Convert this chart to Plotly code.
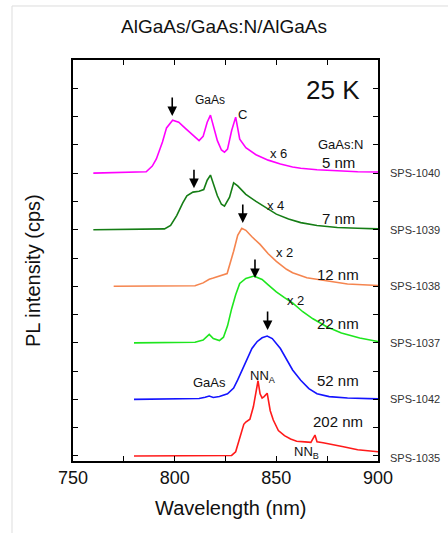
import plotly.graph_objects as go

# ---------------- data (wavelength nm, intensity above baseline, arb. units) -------------
wl_5nm = [760, 780, 786, 789, 791, 794, 796, 799, 802, 805, 808, 810, 812, 814, 816, 817.6, 819, 821, 823, 824.5, 826, 828, 830, 832, 835, 840, 846, 852, 858, 862, 870, 880, 890, 900]
pl_5nm = [0, 0.02, 0.05, 0.25, 0.5, 1.1, 1.6, 1.87, 1.8, 1.6, 1.4, 1.25, 1.15, 1.3, 1.8, 2.05, 1.7, 1.15, 0.82, 0.74, 0.85, 1.5, 1.98, 1.2, 0.9, 0.65, 0.46, 0.32, 0.22, 0.17, 0.12, 0.08, 0.05, 0.04]

wl_7nm = [760, 795, 798, 801, 804, 806, 809, 812, 814.3, 816, 817.6, 819, 821, 823, 824.5, 827, 829, 831, 835, 840, 845, 850, 856, 862, 870, 880, 890, 900]
pl_7nm = [0, 0.03, 0.15, 0.5, 0.95, 1.2, 1.33, 1.36, 1.42, 1.75, 1.93, 1.65, 1.2, 0.9, 0.83, 1.15, 1.66, 1.55, 1.25, 1.0, 0.78, 0.55, 0.38, 0.25, 0.15, 0.08, 0.05, 0.03]

wl_12nm = [770, 810, 814, 817, 819, 822, 825.8, 829, 831, 833, 835, 838, 842, 846, 850, 855, 858, 865, 875, 885, 900]
pl_12nm = [0, 0.02, 0.12, 0.25, 0.29, 0.35, 0.45, 1.24, 1.8, 2.05, 1.98, 1.75, 1.48, 1.15, 0.88, 0.6, 0.48, 0.3, 0.18, 0.08, 0.03]

wl_22nm = [780, 810, 814, 817, 819, 822, 824, 826, 828, 830, 832, 835, 839, 843, 846, 850, 854, 858, 863, 868, 875, 882, 891, 900]
pl_22nm = [0, 0.02, 0.1, 0.3, 0.15, 0.08, 0.2, 0.6, 1.2, 1.7, 2.1, 2.28, 2.36, 2.24, 2.05, 1.8, 1.6, 1.41, 1.1, 0.85, 0.56, 0.35, 0.17, 0.05]

wl_52nm = [780, 812, 815, 817, 819, 822, 826, 829, 831, 833, 835.6, 838, 840.5, 843, 845.5, 848, 852, 855, 858, 862, 866, 870, 876, 885, 900]
pl_52nm = [0, 0.03, 0.08, 0.12, 0.07, 0.1, 0.2, 0.4, 0.69, 1.0, 1.45, 1.8, 2.04, 2.18, 2.24, 2.15, 1.8, 1.4, 1.04, 0.68, 0.38, 0.2, 0.1, 0.05, 0.02]

wl_202nm = [780, 828, 830, 832, 834, 835, 837, 838.7, 840.3, 841, 842, 843, 844, 845.5, 847, 848.5, 851, 854, 857, 860, 864, 867, 869, 870, 873, 876, 883, 890, 900]
pl_202nm = [0, 0.02, 0.15, 0.6, 1.12, 1.2, 1.3, 1.74, 2.3, 2.66, 2.2, 2.05, 2.1, 2.22, 1.6, 1.27, 0.9, 0.72, 0.6, 0.52, 0.5, 0.48, 0.74, 0.5, 0.47, 0.42, 0.33, 0.22, 0.15]

samples = ["SPS-1040", "SPS-1039", "SPS-1038", "SPS-1037", "SPS-1042", "SPS-1035"]
thickness = ["5 nm", "7 nm", "12 nm", "22 nm", "52 nm", "202 nm"]
offsets = [10, 8, 6, 4, 2, 0]
scale_labels = ["x 6", "x 4", "x 2", "x 2"]
colors = ["#ff00ff", "#157d15", "#f5854f", "#1ee61e", "#1414ff", "#ff1a1a"]

series_wl = [wl_5nm, wl_7nm, wl_12nm, wl_22nm, wl_52nm, wl_202nm]
series_pl = [pl_5nm, pl_7nm, pl_12nm, pl_22nm, pl_52nm, pl_202nm]

# peak positions marked with arrows (wavelength, intensity above baseline)
arrow_wl = [798.8, 809.5, 833.5, 839.5, 845.7]
arrow_pl = [2.02, 1.47, 2.24, 2.29, 2.45]

FONT = "Liberation Sans, Arial, sans-serif"

fig = go.Figure()
for wl, pl, off, col in zip(series_wl, series_pl, offsets, colors):
    fig.add_trace(go.Scatter(x=wl, y=[v + off for v in pl], mode="lines",
                             line=dict(color=col, width=1.6), showlegend=False,
                             hoverinfo="skip"))

ann = []
# arrows
for w, p, off in zip(arrow_wl, arrow_pl, offsets):
    ann.append(dict(x=w, y=p + off, xref="x", yref="y", text="", showarrow=True,
                    ax=0, ay=-20, arrowhead=2, arrowsize=1.2, arrowwidth=1.6,
                    arrowcolor="black", standoff=0))

# sample labels on the right (outside the plot area)
for s, off in zip(samples, offsets):
    ann.append(dict(x=1.033, y=off - (0.07 if off == 0 else 0), xref="paper", yref="y", text=s,
                    showarrow=False, xanchor="left", yanchor="middle",
                    font=dict(family=FONT, size=11, color="#333333")))

# thickness labels
thick_y = [10.39, 8.41, 6.43, 4.70, 2.66, 1.21]
for t, ty in zip(thickness, thick_y):
    ann.append(dict(x=880.5, y=ty, xref="x", yref="y", text=t, showarrow=False,
                    xanchor="center", yanchor="middle",
                    font=dict(family=FONT, size=15, color="#111111")))

# multiplication factors
sc_x = [851, 849.5, 853.9, 859.3]
sc_y = [10.71, 8.87, 7.18, 5.49]
for lab, sx, sy in zip(scale_labels, sc_x, sc_y):
    ann.append(dict(x=sx, y=sy, xref="x", yref="y", text=lab, showarrow=False,
                    xanchor="center", yanchor="middle",
                    font=dict(family=FONT, size=13, color="#111111")))

other = [
    ("25 K", 877.9, 12.94, 26),
    ("GaAs", 817.6, 12.58, 12),
    ("C", 833.3, 12.09, 13),
    ("GaAs:N", 882.0, 11.0, 13),
    ("GaAs", 817.2, 2.59, 13),
    ("NN<sub>A</sub>", 843.5, 2.82, 13),
    ("NN<sub>B</sub>", 865.0, 0.14, 13),
]
for txt, tx, ty, fs in other:
    ann.append(dict(x=tx, y=ty, xref="x", yref="y", text=txt, showarrow=False,
                    xanchor="center", yanchor="middle",
                    font=dict(family=FONT, size=fs, color="#111111")))

# titles
ann.append(dict(x=0.495, y=1.0823, xref="paper", yref="paper", text="AlGaAs/GaAs:N/AlGaAs",
                showarrow=False, xanchor="center", yanchor="middle",
                font=dict(family=FONT, size=19, color="#111111")))
ann.append(dict(x=0.518, y=-0.117, xref="paper", yref="paper", text="Wavelength (nm)",
                showarrow=False, xanchor="center", yanchor="middle",
                font=dict(family=FONT, size=20, color="#111111")))
ann.append(dict(x=-0.131, y=0.474, xref="paper", yref="paper", text="PL intensity (cps)",
                showarrow=False, textangle=-90, xanchor="center", yanchor="middle",
                font=dict(family=FONT, size=20, color="#111111")))

shapes = [
    dict(type="line", xref="paper", yref="paper", x0=-0.2, x1=1.3, y0=1.1347, y1=1.1347,
         line=dict(color="#dddddd", width=1)),
    dict(type="line", xref="paper", yref="paper", x0=-0.2, x1=-0.2, y0=-0.19, y1=1.1347,
         line=dict(color="#dddddd", width=1)),
]

fig.update_layout(
    width=448, height=533,
    margin=dict(l=73, r=70, t=60, b=72),
    paper_bgcolor="white", plot_bgcolor="white",
    annotations=ann, shapes=shapes,
    font=dict(family=FONT, color="#111111"),
)
fig.update_xaxes(range=[750, 900], tickvals=[750, 800, 850, 900], ticks="inside",
                 ticklen=5, tickwidth=1.2, tickcolor="black",
                 minor=dict(dtick=25, tick0=750, ticks="inside", ticklen=5, tickwidth=1.2, tickcolor="black"),
                 showline=True, linecolor="black", linewidth=1.5, mirror="ticks",
                 showgrid=False, zeroline=False,
                 tickfont=dict(family=FONT, size=18, color="#111111"))
fig.update_yaxes(range=[-0.177, 14], tickvals=list(range(0, 15)), showticklabels=False,
                 ticks="inside", ticklen=5, tickwidth=1.2, tickcolor="black",
                 showline=True, linecolor="black", linewidth=1.5, mirror="ticks",
                 showgrid=False, zeroline=False)

fig.write_html("out.html")
